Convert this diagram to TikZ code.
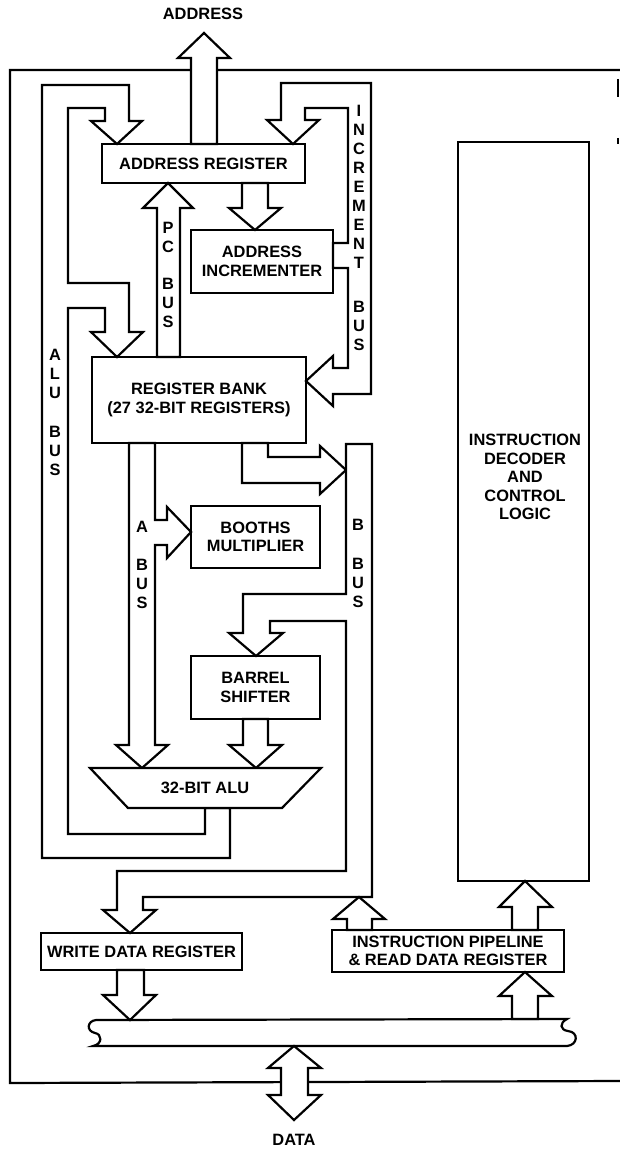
\documentclass[tikz,border=0pt]{standalone}
\usepackage{fontspec}
\setmainfont{Liberation Sans}
\newcommand\lbl{\fontsize{8.2}{9.2}\selectfont\bfseries}
\newcommand\vlbl{\fontsize{8.2}{9.5}\selectfont\bfseries}
\tikzset{
  lw/.style={line width=1.1pt, line join=miter},
  box/.style={draw, lw, inner sep=0pt, align=center, font=\lbl},
  fat/.style={draw, lw, fill=white},
  vtext/.style={align=center, inner sep=0pt, font=\vlbl},
  plain/.style={align=center, inner sep=0pt, font=\lbl},
}
\begin{document}
\begin{tikzpicture}[x=0.5pt, y=-0.5pt]
\useasboundingbox (0,0) rectangle (620,1150);
% frame
\draw[lw] (620,70) -- (10,70) -- (10,1083) -- (620,1081);
\draw[line width=0.8pt] (618,79) -- (618,97);
\draw[line width=0.8pt] (618,138) -- (618,144);

% data bus (wavy ends)
\draw[fat] (96,1020) -- (567,1019)
  .. controls (559,1023) and (560,1030) .. (568,1031)
  .. controls (579,1032) and (578,1045) .. (567,1046)
  -- (93,1046)
  .. controls (103,1044) and (102,1034) .. (95,1033)
  .. controls (86,1031) and (87,1021) .. cycle;

% ADDRESS output arrow
\draw[fat] (191,144) -- (191,58) -- (178,58) -- (204,33) -- (230,58) -- (217,58) -- (217,144) -- cycle;
% DATA double arrow
\draw[fat] (281,1068) -- (268,1068) -- (294,1046) -- (321,1068) -- (308,1068) -- (308,1095) -- (321,1095) -- (294,1120) -- (268,1095) -- (281,1095) -- cycle;

% ALU bus
\draw[fat] (230,808) -- (230,858) -- (42,858) -- (42,85) -- (129,85) -- (129,121) -- (142,121) -- (117,144) -- (91,121) -- (105,121) -- (105,108) -- (68,108) -- (68,283) -- (129,283) -- (129,332) -- (143,332) -- (117,357) -- (91,332) -- (105,332) -- (105,308) -- (68,308) -- (68,834) -- (205,834) -- (205,808) -- cycle;

% increment bus
\draw[fat] (333,243) -- (348,243) -- (348,108) -- (305,108) -- (305,120) -- (319,120) -- (293,144) -- (267,120) -- (281,120) -- (281,83) -- (371,83) -- (371,394) -- (333,394) -- (333,406) -- (306,381) -- (333,356) -- (333,368) -- (348,368) -- (348,268) -- (333,268) -- cycle;

% address register -> incrementer
\draw[fat] (242,183) -- (242,208) -- (229,208) -- (255,230) -- (281,208) -- (268,208) -- (268,183) -- cycle;
% PC bus
\draw[fat] (157,357) -- (157,208) -- (143,208) -- (168,183) -- (193,208) -- (180,208) -- (180,357) -- cycle;

% register bank -> B bus
\draw[fat] (242,443) -- (242,483) -- (320,483) -- (320,494) -- (346,470) -- (320,446) -- (320,457) -- (268,457) -- (268,443) -- cycle;

% B bus
\draw[fat] (346,444) -- (346,594) -- (243,594) -- (243,633) -- (229,633) -- (256,656) -- (283,633) -- (270,633) -- (270,621) -- (346,621) -- (346,871) -- (117,871) -- (117,910) -- (103,910) -- (130,933) -- (156,910) -- (143,910) -- (143,897) -- (372,897) -- (372,444) -- cycle;

% A bus with branch to Booths multiplier
\draw[fat] (129,443) -- (129,745) -- (116,745) -- (142,768) -- (168,745) -- (155,745) -- (155,545) -- (167,545) -- (167,558) -- (191,532) -- (167,507) -- (167,520) -- (155,520) -- (155,443) -- cycle;

% barrel shifter -> ALU
\draw[fat] (243,719) -- (243,745) -- (229,745) -- (256,768) -- (282,745) -- (268,745) -- (268,719) -- cycle;

% pipeline -> B bus
\draw[fat] (347,930) -- (347,919) -- (333,919) -- (359,897) -- (385,919) -- (372,919) -- (372,930) -- cycle;
% pipeline -> decoder
\draw[fat] (512,930) -- (512,907) -- (499,907) -- (525,881) -- (552,907) -- (538,907) -- (538,930) -- cycle;
% data bus -> pipeline
\draw[fat] (512,1019) -- (512,996) -- (499,996) -- (525,972) -- (552,996) -- (538,996) -- (538,1019) -- cycle;
% write data register -> data bus
\draw[fat] (117,970) -- (117,995) -- (103,995) -- (130,1020) -- (156,995) -- (144,995) -- (144,970) -- cycle;

% ALU
\draw[lw, fill=white] (90,768) -- (321,768) -- (282,808) -- (128,808) -- cycle;
\node[plain] (alu) at (205,788) {32-BIT ALU};

% boxes
\node[box, minimum width=101.5pt, minimum height=19.5pt] (areg) at (203.5,163.5) {ADDRESS REGISTER};
\node[box, minimum width=71pt, minimum height=31.5pt] (ainc) at (262,261.5) {ADDRESS\\INCREMENTER};
\node[box, minimum width=107pt, minimum height=43pt] (rbank) at (199,400) {REGISTER BANK\\(27 32-BIT REGISTERS)};
\node[box, minimum width=64.5pt, minimum height=31pt] (booth) at (255.5,537) {BOOTHS\\MULTIPLIER};
\node[box, minimum width=64.5pt, minimum height=31.5pt] (barrel) at (255.5,687.5) {BARREL\\SHIFTER};
\node[box, minimum width=100.5pt, minimum height=18.5pt] (wdr) at (141.5,951.5) {WRITE DATA REGISTER};
\node[box, minimum width=116pt, minimum height=21pt] (pipe) at (448,951) {INSTRUCTION PIPELINE\\\& READ DATA REGISTER};
\node[draw, lw, minimum width=65.5pt, minimum height=369.5pt, inner sep=0pt] (dec) at (523.5,511.5) {};
\node[plain] (dectext) at (525,477) {INSTRUCTION\\DECODER\\AND\\CONTROL\\LOGIC};

% outer labels
\node[plain] (addrlbl) at (203,14) {ADDRESS};
\node[plain] (datalbl) at (294,1140) {DATA};

% vertical bus labels
\node[vtext] (pc1) at (168,237) {P\\C};
\node[vtext] (pc2) at (168,303) {B\\U\\S};
\node[vtext] (alu1) at (55,374) {A\\L\\U};
\node[vtext] (alu2) at (55,451) {B\\U\\S};
\node[vtext] (inc1) at (359,187) {I\\N\\C\\R\\E\\M\\E\\N\\T};
\node[vtext] (inc2) at (359,326) {B\\U\\S};
\node[vtext] (ab1) at (142,527) {A};
\node[vtext] (ab2) at (142,584) {B\\U\\S};
\node[vtext] (bb1) at (358,525) {B};
\node[vtext] (bb2) at (358,583) {B\\U\\S};
\end{tikzpicture}
\end{document}
